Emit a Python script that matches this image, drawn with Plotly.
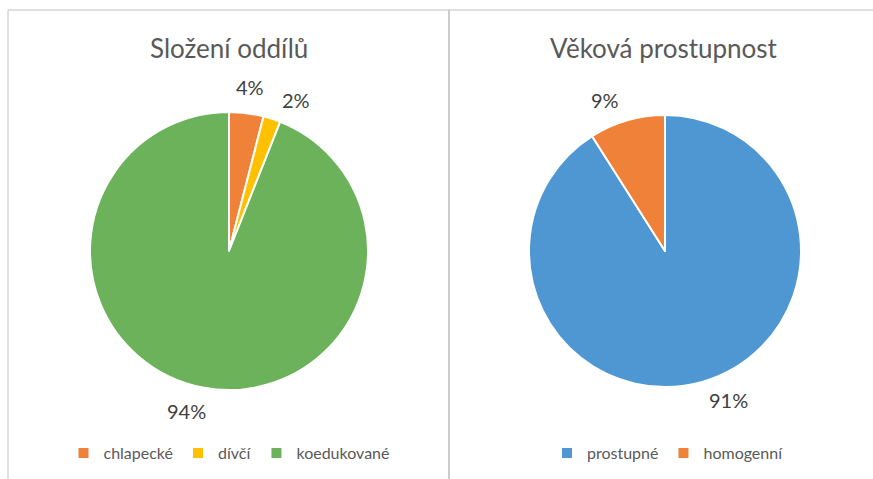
import math
import plotly.graph_objects as go

# data
title1 = "Složení oddílů"
labels1 = ["chlapecké", "dívčí", "koedukované"]
values1 = [4, 2, 94]
colors1 = ["#EF8139", "#FFC000", "#6CB25A"]

title2 = "Věková prostupnost"
labels2 = ["prostupné", "homogenní"]
values2 = [91, 9]
colors2 = ["#4F97D2", "#EF8139"]

W, H = 873, 479
FONT = "Lato, 'Liberation Sans', 'Noto Sans', sans-serif"
GREY = "#595959"
LABEL_COL = "#404040"


def px_x(x):
    return x / W


def px_y(y):
    return 1 - y / H


fig = go.Figure()
annotations = []


def add_pie(labels, values, colors, cx, cy, r, legend_name, nudges):
    fig.add_trace(go.Pie(
        labels=labels, values=values, sort=False, direction="clockwise", rotation=0,
        marker=dict(colors=colors, line=dict(color="white", width=2)),
        textinfo="none",
        domain=dict(x=[px_x(cx - r), px_x(cx + r)], y=[px_y(cy + r), px_y(cy - r)]),
        legend=legend_name, hoverinfo="label+percent",
    ))
    # percentage labels placed outside each slice ("best fit"-like spread)
    total = float(sum(values))
    cum = 0.0
    for v, nd in zip(values, nudges):
        mid = (cum + v / 2.0) / total * 2 * math.pi + math.radians(nd)
        cum += v
        d = r + 26
        x = cx + d * math.sin(mid)
        y = cy - d * math.cos(mid)
        annotations.append(dict(
            text=f"{round(v / total * 100):d}%", x=px_x(x), y=px_y(y),
            xref="paper", yref="paper", showarrow=False,
            xanchor="center", yanchor="middle",
            font=dict(size=20, color=LABEL_COL, family=FONT),
        ))


add_pie(labels1, values1, colors1, 229, 251, 139, "legend", [0, 6, 4])
add_pie(labels2, values2, colors2, 665, 251, 136, "legend2", [-7, -5.5])

line_col = "#D4D4D4"
shapes = [
    dict(type="line", xref="paper", yref="paper", x0=px_x(8), x1=1, y0=px_y(10), y1=px_y(10),
         line=dict(color=line_col, width=1.5)),
    dict(type="line", xref="paper", yref="paper", x0=px_x(8), x1=px_x(8), y0=px_y(10), y1=0,
         line=dict(color=line_col, width=1.5)),
    dict(type="line", xref="paper", yref="paper", x0=px_x(449), x1=px_x(449), y0=px_y(10), y1=0,
         line=dict(color="#CCCCCC", width=2)),
]

annotations += [
    dict(text=title1, x=px_x(229), y=px_y(48), xref="paper", yref="paper", showarrow=False,
         xanchor="center", yanchor="middle", font=dict(size=26, color=GREY, family=FONT)),
    dict(text=title2, x=px_x(664), y=px_y(48), xref="paper", yref="paper", showarrow=False,
         xanchor="center", yanchor="middle", font=dict(size=26, color=GREY, family=FONT)),
]

legend_common = dict(orientation="h", xanchor="center", yanchor="middle",
                     font=dict(size=16, color=GREY, family=FONT),
                     bgcolor="rgba(0,0,0,0)", itemwidth=30, tracegroupgap=0)

fig.update_layout(
    width=W, height=H,
    margin=dict(l=0, r=0, t=0, b=0),
    paper_bgcolor="white", plot_bgcolor="white",
    showlegend=True,
    legend=dict(x=px_x(229), y=px_y(453), **legend_common),
    legend2=dict(x=px_x(668), y=px_y(453), **legend_common),
    shapes=shapes, annotations=annotations,
    font=dict(family=FONT, color=GREY),
)

fig.write_html("out.html", config={"displayModeBar": False},
               post_script="document.body.style.margin='0';document.body.style.overflow='hidden';")
